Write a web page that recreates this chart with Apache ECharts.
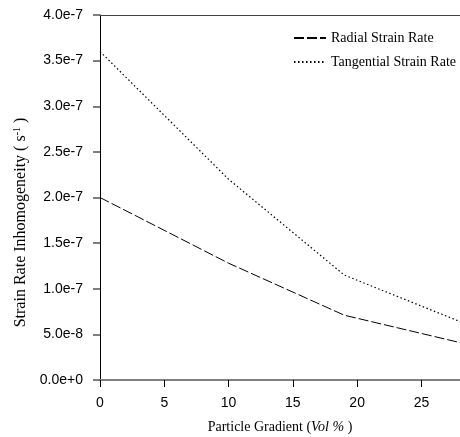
<!DOCTYPE html>
<html><head><meta charset="utf-8">
<script src="https://cdn.jsdelivr.net/npm/echarts@6/dist/echarts.min.js"></script>
<style>html,body{margin:0;padding:0;background:#fff}#c{width:460px;height:437px}</style>
</head><body><div id="c"></div>
<script>
const xValues = [0, 10, 19, 28];
const radial = [2.0e-7, 1.28e-7, 0.71e-7, 0.41e-7];
const tangential = [3.6e-7, 2.2e-7, 1.15e-7, 0.64e-7];
const seriesNames = ['Radial Strain Rate', 'Tangential Strain Rate'];

const chart = echarts.init(document.getElementById('c'));
const serif = '"Liberation Serif", "Times New Roman", serif';
const sans = '"Liberation Sans", Arial, sans-serif';
chart.setOption({
  animation: false,
  grid: { left: 100, top: 15, right: 0, bottom: 57, containLabel: false, outerBoundsMode: 'none' },
  legend: {
    orient: 'vertical', left: 288, top: 26, itemGap: 10, itemWidth: 32, itemHeight: 14,
    itemStyle: { opacity: 0, borderWidth: 0 },
    textStyle: { fontFamily: serif, fontSize: 14, color: '#000' },
    data: seriesNames
  },
  xAxis: [{
    type: 'value', min: 0, max: 28, interval: 5,
    name: '{n|Particle Gradient (}{i|Vol %}{n| )}', nameLocation: 'middle', nameGap: 40,
    nameTextStyle: { rich: { n: { fontFamily: serif, fontSize: 14, color: '#000' }, i: { fontFamily: serif, fontSize: 14, fontStyle: 'italic', color: '#000' } } },
    axisLine: { lineStyle: { color: '#808080', width: 2 } },
    axisTick: { length: 7, lineStyle: { color: '#000', width: 1 } },
    axisLabel: { fontFamily: sans, fontSize: 14, color: '#000', margin: 16, showMaxLabel: false },
    splitLine: { show: false }
  }, {
    type: 'value', min: 0, max: 28, position: 'top',
    axisLine: { lineStyle: { color: '#444', width: 1 } },
    axisTick: { show: false }, axisLabel: { show: false }, splitLine: { show: false }
  }],
  yAxis: {
    type: 'value', min: 0, max: 4e-7, interval: 0.5e-7,
    name: '{n|Strain Rate Inhomogeneity ( s}{s|-1}{n| )}', nameLocation: 'middle', nameGap: 70,
    nameTextStyle: { padding: [0, 50, 0, 0], rich: { n: { fontFamily: serif, fontSize: 16, color: '#000' }, s: { fontFamily: serif, fontSize: 10, color: '#000', verticalAlign: 'top', padding: [0, 0, 8, 0] } } },
    axisLine: { lineStyle: { color: '#000', width: 1 } },
    axisTick: { length: 7, lineStyle: { color: '#555', width: 1.5 } },
    axisLabel: { fontFamily: sans, fontSize: 14, color: '#000', margin: 17, formatter: v => v.toExponential(1) },
    splitLine: { show: false }
  },
  series: [
    { name: seriesNames[0], type: 'line', data: xValues.map((x, i) => [x, radial[i]]), symbol: 'none',
      lineStyle: { color: '#000', width: 1, type: [10, 3] }, itemStyle: { color: '#000' } },
    { name: seriesNames[1], type: 'line', data: xValues.map((x, i) => [x, tangential[i]]), symbol: 'none',
      lineStyle: { color: '#000', width: 1.2, type: [1.5, 2.5] }, itemStyle: { color: '#000' } }
  ]
});
</script></body></html>
